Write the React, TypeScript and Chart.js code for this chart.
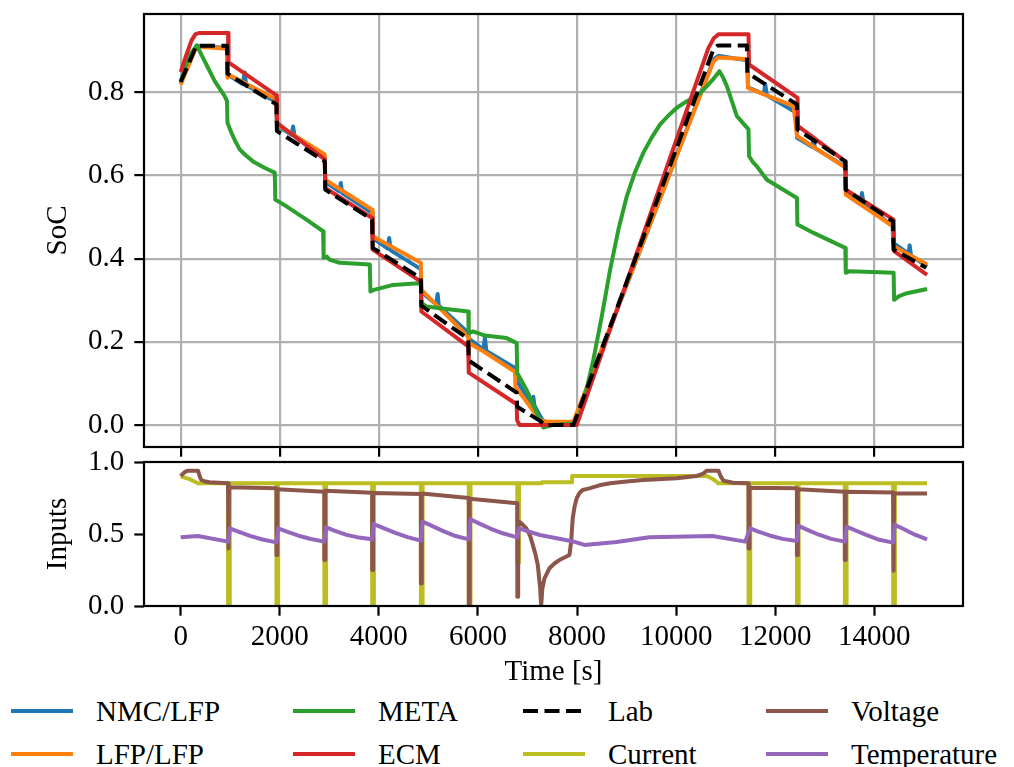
import React, { useEffect, useRef } from "react";
import { Chart, registerables } from "chart.js";

Chart.register(...registerables);

// ---------- tick values ----------
const X_TICKS = [0, 2000, 4000, 6000, 8000, 10000, 12000, 14000];
const SOC_TICKS = [0, 0.2, 0.4, 0.6, 0.8];
const INPUT_TICKS = [0, 0.5, 1.0];

// ---------- SoC series ----------
const nmcTime = [0, 317, 936, 946, 1250, 1293, 1320, 1933, 1943, 2240, 2269, 2300, 2909, 2919, 3200, 3232, 3260, 3865, 3875, 4180, 4208, 4240, 4848, 4858, 5160, 5186, 5210, 5804, 5814, 6110, 6141, 6170, 6782, 6792, 7090, 7117, 7140, 7300, 7400, 7930, 10760, 10855, 11000, 11440, 11450, 11770, 11798, 11830, 12430, 12440, 12745, 12774, 12800, 13410, 13420, 13720, 13751, 13780, 14370, 14380, 14690, 14714, 14740, 15064];
const nmcSoc = [0.82, 0.912, 0.907, 0.843, 0.82, 0.848, 0.818, 0.776, 0.72, 0.698, 0.718, 0.694, 0.642, 0.585, 0.562, 0.582, 0.558, 0.51, 0.45, 0.424, 0.45, 0.42, 0.375, 0.32, 0.29, 0.315, 0.287, 0.222, 0.208, 0.182, 0.21, 0.178, 0.135, 0.105, 0.05, 0.068, 0.047, 0.012, 0.005, 0.005, 0.88, 0.888, 0.885, 0.877, 0.812, 0.796, 0.82, 0.793, 0.751, 0.691, 0.669, 0.69, 0.666, 0.622, 0.566, 0.538, 0.558, 0.535, 0.478, 0.438, 0.412, 0.432, 0.408, 0.381];

const lfpTime = [0, 317, 600, 936, 946, 980, 1933, 1943, 2909, 2919, 3865, 3875, 4848, 4858, 5804, 5814, 6100, 6747, 6757, 7253, 7400, 7927, 10754, 10855, 11394, 11440, 11450, 11697, 12370, 12440, 13414, 13424, 14377, 14387, 15064];
const lfpSoc = [0.819, 0.91, 0.908, 0.905, 0.835, 0.842, 0.783, 0.723, 0.651, 0.59, 0.518, 0.454, 0.39, 0.325, 0.212, 0.197, 0.178, 0.128, 0.092, 0.012, 0.008, 0.008, 0.875, 0.884, 0.88, 0.876, 0.811, 0.799, 0.767, 0.695, 0.619, 0.554, 0.478, 0.43, 0.386];

const metaTime = [0, 180, 330, 420, 519, 687, 889, 935, 945, 1024, 1100, 1192, 1300, 1461, 1700, 1899, 1910, 2135, 2539, 2875, 2885, 2950, 3000, 3212, 3818, 3830, 3900, 4289, 4794, 4848, 4860, 4963, 5232, 5804, 5814, 5900, 6141, 6579, 6782, 6792, 6983, 7150, 7320, 7500, 7993, 8160, 8330, 8500, 8667, 8835, 9004, 9170, 9340, 9500, 9677, 9850, 10014, 10180, 10350, 10500, 10620, 10750, 10875, 10950, 11024, 11226, 11461, 11471, 11550, 11630, 11832, 12438, 12448, 12774, 13414, 13424, 13500, 14390, 14400, 14500, 14660, 15064];
const metaSoc = [0.827, 0.89, 0.913, 0.89, 0.867, 0.827, 0.791, 0.779, 0.727, 0.703, 0.683, 0.663, 0.65, 0.634, 0.618, 0.607, 0.542, 0.526, 0.494, 0.466, 0.402, 0.405, 0.398, 0.39, 0.386, 0.321, 0.325, 0.337, 0.341, 0.338, 0.293, 0.285, 0.281, 0.273, 0.221, 0.225, 0.215, 0.209, 0.197, 0.125, 0.084, 0.04, -0.006, 0, 0.004, 0.07, 0.157, 0.262, 0.373, 0.47, 0.55, 0.608, 0.655, 0.69, 0.723, 0.745, 0.763, 0.776, 0.787, 0.8, 0.815, 0.832, 0.851, 0.835, 0.815, 0.743, 0.711, 0.647, 0.632, 0.622, 0.59, 0.546, 0.482, 0.462, 0.426, 0.366, 0.37, 0.366, 0.301, 0.31, 0.317, 0.327];

const ecmTime = [0, 115, 220, 300, 384, 956, 966, 1933, 1943, 2909, 2919, 3865, 3875, 4848, 4858, 5804, 5814, 6782, 6790, 6840, 7993, 10653, 10760, 10855, 11461, 11471, 12451, 12461, 13414, 13424, 14390, 14400, 15064];
const ecmSoc = [0.849, 0.89, 0.925, 0.94, 0.943, 0.943, 0.872, 0.793, 0.727, 0.639, 0.57, 0.498, 0.422, 0.345, 0.273, 0.189, 0.126, 0.05, 0.012, 0, 0, 0.907, 0.93, 0.94, 0.94, 0.867, 0.787, 0.719, 0.634, 0.566, 0.494, 0.418, 0.361];

const labTime = [0, 317, 936, 946, 1933, 1943, 2909, 2919, 3865, 3875, 4848, 4858, 5804, 5814, 6782, 6792, 7253, 7350, 7927, 10754, 10830, 10889, 11428, 11438, 12438, 12448, 13414, 13424, 14377, 14387, 15050];
const labSoc = [0.825, 0.912, 0.912, 0.845, 0.771, 0.707, 0.634, 0.566, 0.494, 0.426, 0.353, 0.287, 0.207, 0.155, 0.078, 0.044, 0.01, 0, 0, 0.904, 0.912, 0.913, 0.913, 0.847, 0.771, 0.711, 0.634, 0.566, 0.49, 0.422, 0.378];

// ---------- Input series ----------
const curTime = [0, 150, 350, 956, 957, 990, 991, 1933, 1934, 1967, 1968, 2900, 2901, 2934, 2935, 3865, 3866, 3899, 3900, 4848, 4849, 4882, 4883, 5815, 5816, 5849, 5850, 6794, 6795, 6828, 6829, 7290, 7291, 7900, 7901, 10620, 10750, 10855, 11461, 11462, 11495, 11496, 12438, 12439, 12472, 12473, 13405, 13406, 13439, 13440, 14380, 14381, 14414, 14415, 15064];
const curVal = [0.9, 0.885, 0.852, 0.852, 0, 0, 0.852, 0.852, 0, 0, 0.852, 0.852, 0, 0, 0.852, 0.852, 0, 0, 0.852, 0.852, 0, 0, 0.852, 0.852, 0, 0, 0.852, 0.852, 0.3, 0.3, 0.852, 0.852, 0.86, 0.86, 0.903, 0.903, 0.88, 0.852, 0.852, 0, 0, 0.852, 0.852, 0, 0, 0.852, 0.852, 0, 0, 0.852, 0.852, 0, 0, 0.852, 0.852];

const volTime = [0, 80, 148, 350, 385, 418, 500, 586, 956, 957, 975, 976, 1933, 1934, 1950, 1951, 2900, 2901, 2917, 2918, 3865, 3866, 3882, 3883, 4848, 4849, 4865, 4866, 5815, 5816, 5832, 5833, 6794, 6795, 6811, 6812, 6850, 6974, 7050, 7107, 7160, 7208, 7256, 7276, 7300, 7343, 7443, 7550, 7644, 7847, 7881, 7913, 7950, 7993, 8050, 8114, 8249, 8450, 8667, 9000, 9340, 10014, 10418, 10550, 10620, 10855, 10900, 10956, 11150, 11461, 11462, 11478, 11479, 12438, 12439, 12455, 12456, 13405, 13406, 13422, 13423, 14380, 14381, 14397, 14398, 15064];
const volVal = [0.903, 0.93, 0.94, 0.94, 0.9, 0.875, 0.864, 0.859, 0.852, 0.4, 0.4, 0.824, 0.817, 0.354, 0.354, 0.81, 0.794, 0.319, 0.319, 0.8, 0.787, 0.25, 0.25, 0.785, 0.778, 0.157, 0.157, 0.782, 0.75, 0.007, 0.007, 0.745, 0.713, 0.065, 0.065, 0.585, 0.582, 0.54, 0.49, 0.424, 0.36, 0.285, 0.123, 0.0, 0.12, 0.192, 0.262, 0.297, 0.319, 0.354, 0.447, 0.609, 0.69, 0.748, 0.785, 0.806, 0.817, 0.838, 0.852, 0.865, 0.875, 0.887, 0.903, 0.92, 0.94, 0.94, 0.9, 0.87, 0.856, 0.852, 0.4, 0.4, 0.822, 0.817, 0.354, 0.354, 0.81, 0.794, 0.319, 0.319, 0.794, 0.789, 0.245, 0.245, 0.782, 0.782];

const tempTime = [0, 350, 956, 990, 1150, 1400, 1650, 1933, 1967, 2130, 2380, 2630, 2900, 2934, 3100, 3350, 3600, 3865, 3899, 4070, 4320, 4580, 4848, 4882, 5050, 5300, 5550, 5815, 5849, 6030, 6250, 6500, 6794, 6828, 7000, 7250, 7900, 8149, 8800, 9458, 10733, 11394, 11495, 11660, 11900, 12150, 12438, 12472, 12640, 12880, 13130, 13405, 13439, 13610, 13850, 14100, 14380, 14414, 14580, 14820, 15064];
const tempVal = [0.477, 0.486, 0.447, 0.539, 0.518, 0.487, 0.462, 0.442, 0.539, 0.518, 0.488, 0.465, 0.447, 0.546, 0.524, 0.494, 0.475, 0.463, 0.569, 0.544, 0.51, 0.478, 0.454, 0.586, 0.56, 0.52, 0.486, 0.463, 0.602, 0.572, 0.538, 0.505, 0.477, 0.539, 0.52, 0.493, 0.45, 0.424, 0.445, 0.477, 0.486, 0.447, 0.539, 0.516, 0.488, 0.466, 0.451, 0.556, 0.53, 0.495, 0.466, 0.447, 0.551, 0.526, 0.492, 0.46, 0.44, 0.563, 0.536, 0.495, 0.463];

// ---------- styling ----------
const FONT = "'Liberation Serif', 'DejaVu Serif', serif";
const FONT_SIZE = 29;
const LINE_W = 4;
const DASH = [15, 6.5];

const LEGEND_ITEMS = [
  { label: "NMC/LFP", color: "#1f77b4", dash: false },
  { label: "LFP/LFP", color: "#ff7f0e", dash: false },
  { label: "META", color: "#2ca02c", dash: false },
  { label: "ECM", color: "#d62728", dash: false },
  { label: "Lab", color: "#000000", dash: true },
  { label: "Current", color: "#bcbd22", dash: false },
  { label: "Voltage", color: "#8c564b", dash: false },
  { label: "Temperature", color: "#9467bd", dash: false },
];
const LEGEND_COL_X = [11, 293, 523, 766];
const LEGEND_ROW_Y = [711, 754];

const pts = (t: number[], v: number[]) => t.map((x, i) => ({ x, y: v[i] }));

const framePlugin = {
  id: "frame",
  afterDatasetsDraw(chart: any) {
    const { ctx, chartArea } = chart;
    const { left, top, right, bottom } = chartArea;
    ctx.save();
    ctx.strokeStyle = "#000";
    ctx.lineWidth = 2.2;
    ctx.strokeRect(left, top, right - left, bottom - top);
    ctx.restore();
  },
};

const X_MIN = -740;
const X_MAX = 15790;
const BOT_TOP = 425;

const fitY = (s: any) => {
  s.width = 144;
  s.paddingTop = 0;
  s.paddingBottom = 0;
  s.paddingLeft = 0;
  s.paddingRight = 0;
};
const fitX = (h: number) => (s: any) => {
  s.height = h;
  s.paddingTop = 0;
  s.paddingBottom = 0;
  s.paddingLeft = 0;
  s.paddingRight = 0;
};

export default function App() {
  const topRef = useRef<HTMLCanvasElement>(null);
  const botRef = useRef<HTMLCanvasElement>(null);

  useEffect(() => {
    Chart.defaults.font.family = FONT;
    Chart.defaults.font.size = FONT_SIZE;
    Chart.defaults.color = "#000";

    const line = (label: string, t: number[], v: number[], color: string, order: number, extra: any = {}) => ({
      label,
      data: pts(t, v),
      borderColor: color,
      backgroundColor: color,
      borderWidth: LINE_W,
      pointRadius: 0,
      fill: false,
      tension: 0,
      borderJoinStyle: "round",
      order,
      ...extra,
    });

    const gridTop = { color: "#b0b0b0", lineWidth: 2.2, tickColor: "#000", tickLength: 9.7, tickWidth: 2.2 };
    const gridBot = { drawOnChartArea: false, tickColor: "#000", tickLength: 9.7, tickWidth: 2.2 };

    const c1 = new Chart(topRef.current as HTMLCanvasElement, {
      type: "line",
      data: {
        datasets: [
          line("NMC/LFP", nmcTime, nmcSoc, "#1f77b4", 4),
          line("LFP/LFP", lfpTime, lfpSoc, "#ff7f0e", 3),
          line("META", metaTime, metaSoc, "#2ca02c", 2),
          line("ECM", ecmTime, ecmSoc, "#d62728", 1),
          line("Lab", labTime, labSoc, "#000000", 0, { borderDash: DASH }),
        ] as any,
      },
      options: {
        animation: false,
        responsive: false,
        maintainAspectRatio: false,
        layout: { padding: { left: 0, right: 51, top: 14, bottom: 0 } },
        plugins: { legend: { display: false }, tooltip: { enabled: false } },
        scales: {
          x: {
            type: "linear",
            min: X_MIN,
            max: X_MAX,
            afterBuildTicks: (s: any) => {
              s.ticks = X_TICKS.map((v) => ({ value: v }));
            },
            afterFit: fitX(11),
            ticks: { display: false },
            grid: gridTop,
            border: { display: false },
          },
          y: {
            type: "linear",
            min: -0.0529,
            max: 0.9885,
            afterBuildTicks: (s: any) => {
              s.ticks = SOC_TICKS.map((v) => ({ value: v }));
            },
            afterFit: fitY,
            ticks: { callback: (v: any) => Number(v).toFixed(1), padding: 10, color: "#000" },
            grid: gridTop,
            border: { display: false },
            title: { display: true, text: "SoC", color: "#000", padding: { top: 41, bottom: 0 } },
          },
        },
      } as any,
      plugins: [framePlugin],
    });

    const c2 = new Chart(botRef.current as HTMLCanvasElement, {
      type: "line",
      data: {
        datasets: [
          line("Current", curTime, curVal, "#bcbd22", 2),
          line("Voltage", volTime, volVal, "#8c564b", 1),
          line("Temperature", tempTime, tempVal, "#9467bd", 0),
        ] as any,
      },
      options: {
        animation: false,
        responsive: false,
        maintainAspectRatio: false,
        layout: { padding: { left: 0, right: 51, top: 462 - BOT_TOP, bottom: 0 } },
        plugins: { legend: { display: false }, tooltip: { enabled: false } },
        scales: {
          x: {
            type: "linear",
            min: X_MIN,
            max: X_MAX,
            afterBuildTicks: (s: any) => {
              s.ticks = X_TICKS.map((v) => ({ value: v }));
            },
            afterFit: fitX(84),
            ticks: { callback: (v: any) => String(v), padding: 4.4, autoSkip: false, maxRotation: 0, color: "#000" },
            grid: gridBot,
            border: { display: false },
            title: { display: true, text: "Time [s]", color: "#000", padding: { top: 0, bottom: 0 } },
          },
          y: {
            type: "linear",
            min: 0,
            max: 1,
            afterBuildTicks: (s: any) => {
              s.ticks = INPUT_TICKS.map((v) => ({ value: v }));
            },
            afterFit: fitY,
            ticks: { callback: (v: any) => Number(v).toFixed(1), padding: 10, color: "#000" },
            grid: gridBot,
            border: { display: false },
            title: { display: true, text: "Inputs", color: "#000", padding: { top: 41, bottom: 0 } },
          },
        },
      } as any,
      plugins: [framePlugin],
    });

    return () => {
      c1.destroy();
      c2.destroy();
    };
  }, []);

  return (
    <div
      style={{
        position: "absolute",
        left: 0,
        top: 0,
        width: 1014,
        height: 767,
        background: "#fff",
        overflow: "hidden",
        fontFamily: FONT,
      }}
    >
      <canvas ref={topRef} width={1014} height={458} style={{ position: "absolute", left: 0, top: 0 }} />
      <canvas ref={botRef} width={1014} height={690 - BOT_TOP} style={{ position: "absolute", left: 0, top: BOT_TOP }} />
      {LEGEND_ITEMS.map((it, i) => {
        const col = Math.floor(i / 2);
        const row = i % 2;
        const x = LEGEND_COL_X[col];
        const y = LEGEND_ROW_Y[row];
        return (
          <React.Fragment key={it.label}>
            <svg width={64} height={10} style={{ position: "absolute", left: x, top: y - 5 }}>
              <line
                x1={0}
                y1={5}
                x2={62}
                y2={5}
                stroke={it.color}
                strokeWidth={LINE_W}
                strokeDasharray={it.dash ? DASH.join(" ") : undefined}
              />
            </svg>
            <div
              style={{
                position: "absolute",
                left: x + 85,
                top: y - 14.5,
                height: 29,
                lineHeight: "29px",
                fontSize: FONT_SIZE,
                whiteSpace: "nowrap",
                color: "#000",
              }}
            >
              {it.label}
            </div>
          </React.Fragment>
        );
      })}
    </div>
  );
}
